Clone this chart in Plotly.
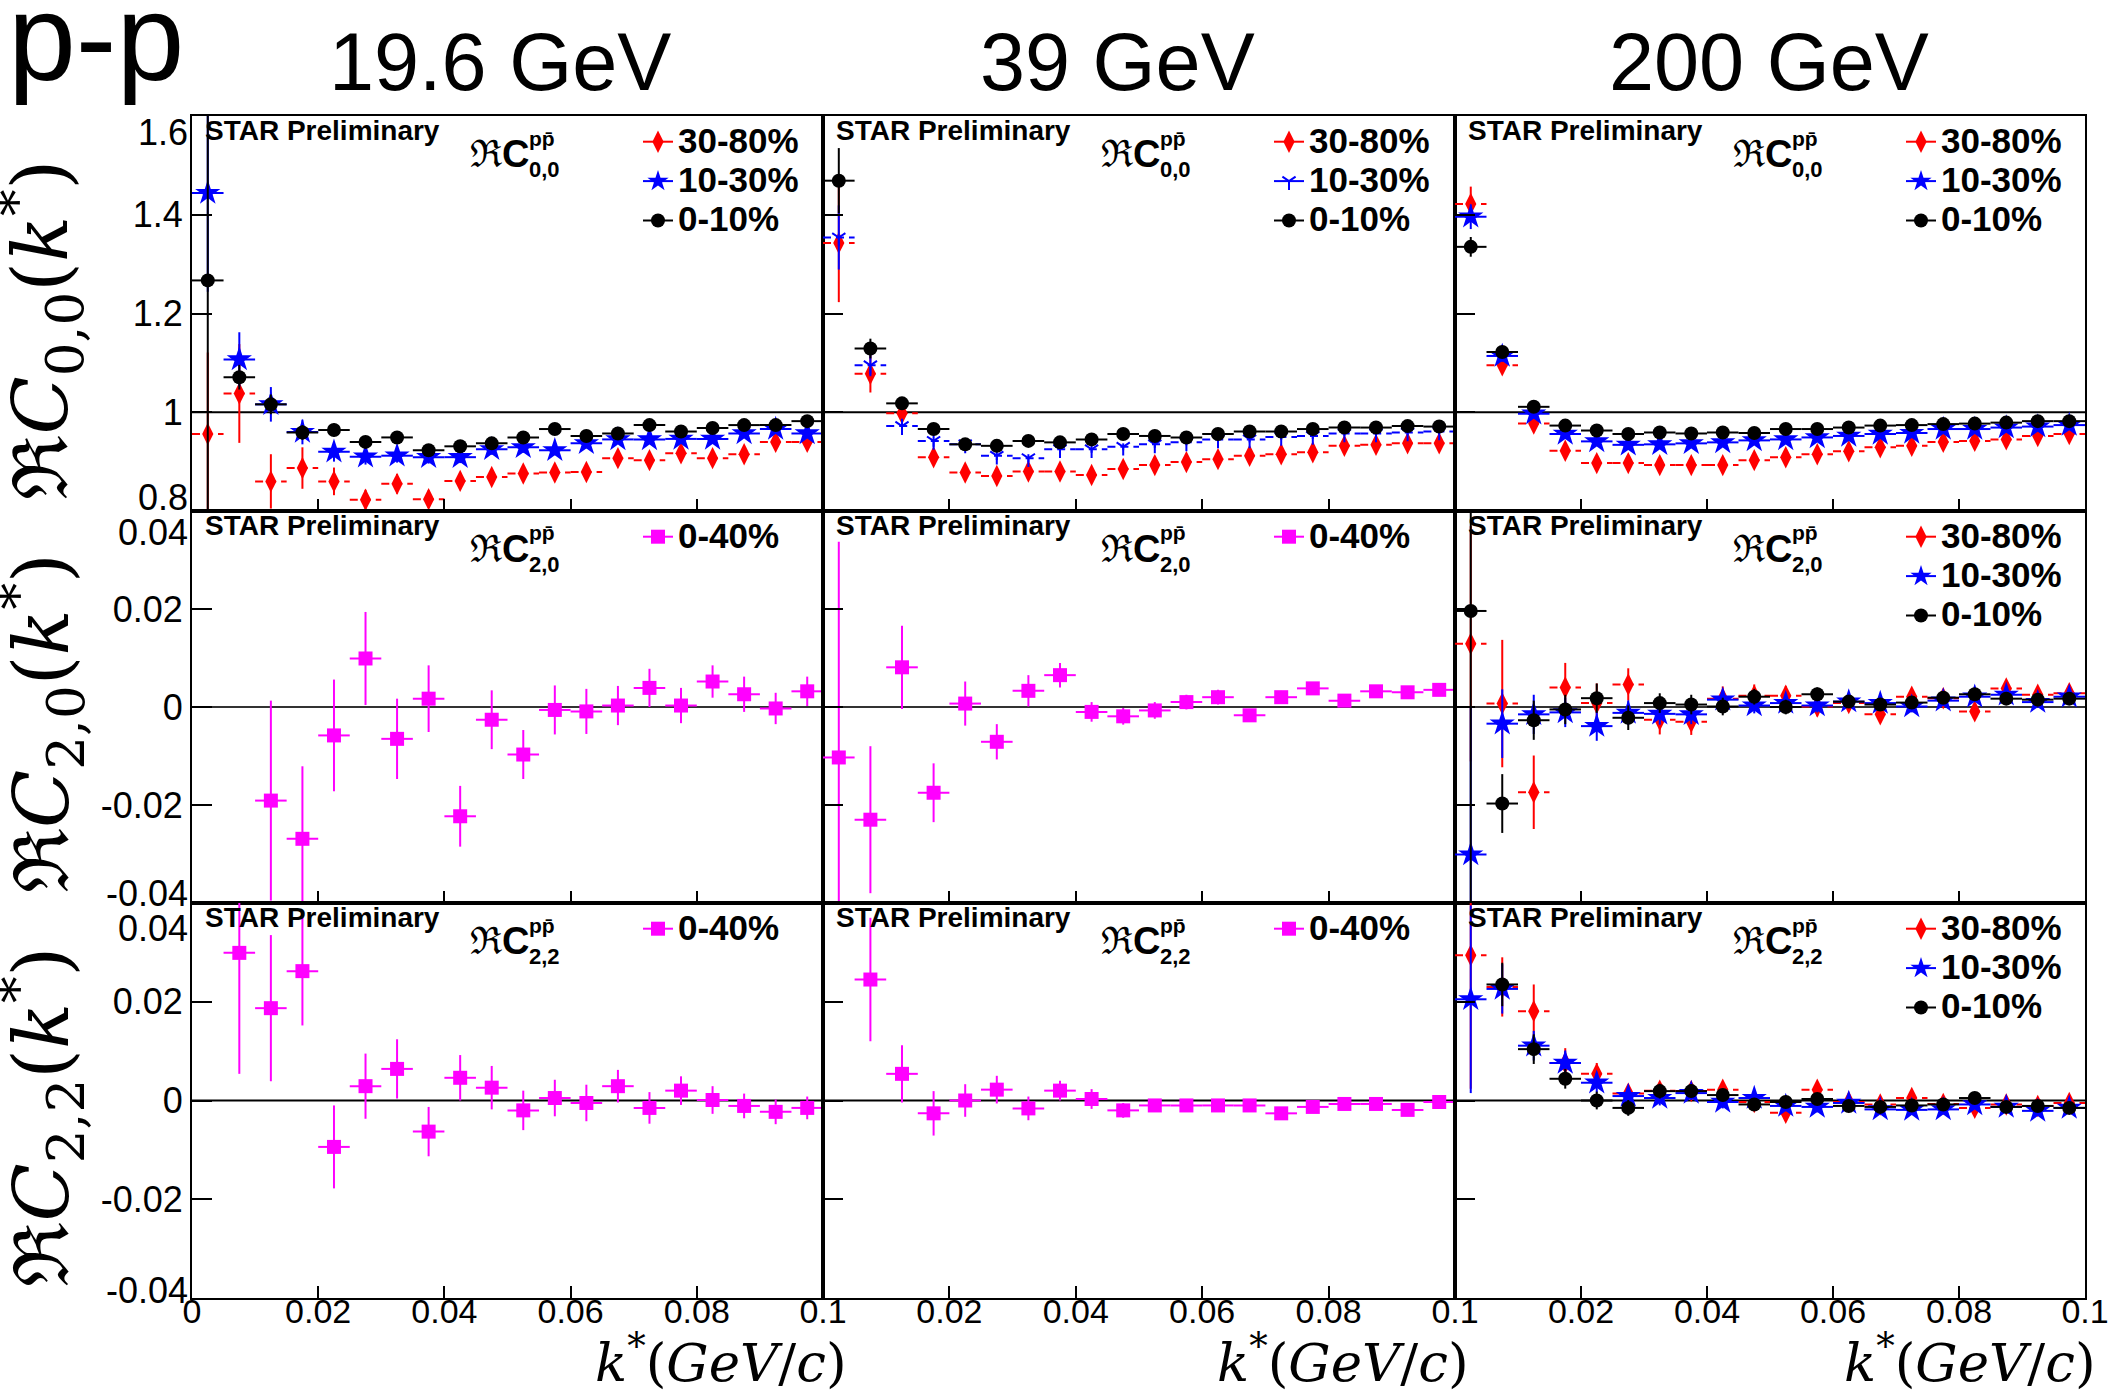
import plotly.graph_objects as go

# ---------------- data ----------------
K_STAR = [0.0025, 0.0075, 0.0125, 0.0175, 0.0225, 0.0275, 0.0325, 0.0375, 0.0425, 0.0475,
          0.0525, 0.0575, 0.0625, 0.0675, 0.0725, 0.0775, 0.0825, 0.0875, 0.0925, 0.0975]
BIN_HALF = 0.0025

ENERGIES = ["19.6 GeV", "39 GeV", "200 GeV"]
CENT = ["30-80%", "10-30%", "0-10%"]

# Re C00, 19.6 GeV
c00_19_3080 = [0.956, 1.038, 0.860, 0.887, 0.860, 0.823, 0.855, 0.824, 0.861, 0.869, 0.876, 0.878, 0.879, 0.907, 0.903, 0.917, 0.907, 0.915, 0.940, 0.940]
e00_19_3080 = [0.165, 0.10, 0.055, 0.042, 0.028, 0.020, 0.020, 0.018, 0.016, 0.015, 0.014, 0.013, 0.013, 0.012, 0.012, 0.011, 0.011, 0.011, 0.010, 0.010]
c00_19_1030 = [1.444, 1.107, 1.016, 0.960, 0.920, 0.910, 0.912, 0.909, 0.909, 0.925, 0.929, 0.923, 0.937, 0.945, 0.945, 0.946, 0.946, 0.957, 0.966, 0.957]
e00_19_1030 = [0.20, 0.055, 0.035, 0.025, 0.020, 0.016, 0.014, 0.013, 0.012, 0.011, 0.011, 0.010, 0.010, 0.009, 0.009, 0.009, 0.008, 0.008, 0.008, 0.008]
c00_19_0010 = [1.267, 1.071, 1.016, 0.959, 0.964, 0.940, 0.949, 0.923, 0.931, 0.937, 0.949, 0.966, 0.952, 0.957, 0.974, 0.961, 0.968, 0.974, 0.974, 0.982]
e00_19_0010 = [0.50, 0.025, 0.020, 0.015, 0.013, 0.012, 0.011, 0.010, 0.010, 0.009, 0.009, 0.009, 0.008, 0.008, 0.008, 0.008, 0.007, 0.007, 0.007, 0.007]

# Re C00, 39 GeV
c00_39_3080 = [1.343, 1.078, 0.998, 0.909, 0.878, 0.871, 0.880, 0.880, 0.873, 0.885, 0.893, 0.899, 0.905, 0.912, 0.915, 0.919, 0.932, 0.934, 0.937, 0.937]
e00_39_3080 = [0.12, 0.038, 0.020, 0.014, 0.011, 0.010, 0.009, 0.009, 0.008, 0.008, 0.008, 0.007, 0.007, 0.007, 0.007, 0.006, 0.006, 0.006, 0.006, 0.006]
c00_39_1030 = [1.354, 1.095, 0.972, 0.942, 0.935, 0.912, 0.907, 0.925, 0.925, 0.930, 0.935, 0.939, 0.945, 0.945, 0.950, 0.952, 0.957, 0.957, 0.959, 0.961]
e00_39_1030 = [0.065, 0.022, 0.015, 0.012, 0.010, 0.009, 0.008, 0.008, 0.007, 0.007, 0.007, 0.006, 0.006, 0.006, 0.006, 0.006, 0.005, 0.005, 0.005, 0.005]
c00_39_0010 = [1.469, 1.129, 1.018, 0.966, 0.935, 0.932, 0.942, 0.939, 0.945, 0.956, 0.952, 0.949, 0.956, 0.961, 0.961, 0.966, 0.969, 0.969, 0.972, 0.971]
e00_39_0010 = [0.066, 0.020, 0.012, 0.010, 0.008, 0.007, 0.007, 0.006, 0.006, 0.006, 0.005, 0.005, 0.005, 0.005, 0.005, 0.005, 0.005, 0.004, 0.004, 0.004]

# Re C00, 200 GeV
c00_200_3080 = [1.422, 1.095, 0.977, 0.922, 0.897, 0.897, 0.893, 0.893, 0.893, 0.903, 0.909, 0.915, 0.921, 0.929, 0.932, 0.940, 0.942, 0.945, 0.952, 0.956]
e00_200_3080 = [0.035, 0.015, 0.012, 0.010, 0.009, 0.008, 0.008, 0.007, 0.007, 0.007, 0.006, 0.006, 0.006, 0.006, 0.006, 0.005, 0.005, 0.005, 0.005, 0.005]
c00_200_1030 = [1.396, 1.114, 0.997, 0.956, 0.941, 0.934, 0.935, 0.937, 0.939, 0.943, 0.945, 0.949, 0.952, 0.956, 0.958, 0.966, 0.966, 0.969, 0.971, 0.974]
e00_200_1030 = [0.025, 0.012, 0.009, 0.008, 0.007, 0.006, 0.006, 0.006, 0.005, 0.005, 0.005, 0.005, 0.005, 0.005, 0.004, 0.004, 0.004, 0.004, 0.004, 0.004]
c00_200_0010 = [1.335, 1.122, 1.011, 0.973, 0.963, 0.956, 0.959, 0.957, 0.959, 0.958, 0.966, 0.966, 0.969, 0.973, 0.974, 0.976, 0.977, 0.979, 0.982, 0.982]
e00_200_0010 = [0.020, 0.010, 0.008, 0.007, 0.006, 0.006, 0.005, 0.005, 0.005, 0.005, 0.005, 0.005, 0.004, 0.004, 0.004, 0.004, 0.004, 0.004, 0.004, 0.004]

# Re C20
c20_19_0040 = [None, None, -0.0191, -0.0269, -0.0058, 0.0099, -0.0065, 0.0017, -0.0223, -0.0026, -0.0097, -0.0006, -0.0009, 0.0003, 0.0039, 0.0003, 0.0052, 0.0026, -0.0003, 0.0032]
e20_19_0040 = [None, None, 0.0204, 0.0148, 0.0114, 0.0095, 0.0082, 0.0068, 0.0062, 0.0060, 0.0050, 0.0050, 0.0046, 0.0040, 0.0039, 0.0036, 0.0033, 0.0036, 0.0032, 0.0030]
c20_39_0040 = [-0.0103, -0.0230, 0.0081, -0.0175, 0.0007, -0.0071, 0.0033, 0.0065, -0.0010, -0.0019, -0.0007, 0.0010, 0.0020, -0.0017, 0.0020, 0.0038, 0.0013, 0.0032, 0.0030, 0.0035]
e20_39_0040 = [0.044, 0.015, 0.0085, 0.0060, 0.0045, 0.0036, 0.0032, 0.0025, 0.0020, 0.0017, 0.0017, 0.0015, 0.0015, 0.0013, 0.0013, 0.0012, 0.0012, 0.0010, 0.0010, 0.0010]
c20_200_3080 = [0.0129, 0.0007, -0.0174, 0.0040, 0.0008, 0.0046, -0.0026, -0.0030, 0.0017, 0.0023, 0.0023, 0.0001, 0.0008, -0.0015, 0.0021, 0.0018, -0.0009, 0.0038, 0.0025, 0.0028]
e20_200_3080 = [0.024, 0.013, 0.0075, 0.0050, 0.0040, 0.0033, 0.0030, 0.0027, 0.0025, 0.0023, 0.0020, 0.0020, 0.0018, 0.0017, 0.0016, 0.0015, 0.0015, 0.0014, 0.0013, 0.0013]
c20_200_1030 = [-0.0301, -0.0034, -0.0015, -0.0011, -0.0039, -0.0012, -0.0014, -0.0015, 0.0015, 0.0003, 0.0008, 0.0003, 0.0011, 0.0008, 0.0001, 0.0013, 0.0021, 0.0025, 0.0010, 0.0021]
e20_200_1030 = [0.030, 0.007, 0.004, 0.0030, 0.0030, 0.0025, 0.0022, 0.0020, 0.0018, 0.0016, 0.0015, 0.0014, 0.0013, 0.0012, 0.0012, 0.0011, 0.0011, 0.0010, 0.0010, 0.0010]
c20_200_0010 = [0.0196, -0.0197, -0.0027, -0.0005, 0.0018, -0.0022, 0.0008, 0.0005, 0.0001, 0.0021, 0.0000, 0.0026, 0.0011, 0.0005, 0.0009, 0.0019, 0.0026, 0.0017, 0.0015, 0.0017]
e20_200_0010 = [0.060, 0.006, 0.004, 0.0030, 0.0030, 0.0025, 0.0020, 0.0020, 0.0018, 0.0016, 0.0015, 0.0014, 0.0013, 0.0012, 0.0012, 0.0011, 0.0011, 0.0010, 0.0010, 0.0010]

# Re C22
c22_19_0040 = [None, 0.0299, 0.0187, 0.0262, -0.0094, 0.0029, 0.0064, -0.0063, 0.0046, 0.0026, -0.0020, 0.0005, -0.0005, 0.0029, -0.0015, 0.0020, 0.0001, -0.0011, -0.0023, -0.0015]
e22_19_0040 = [None, 0.0245, 0.0148, 0.0110, 0.0084, 0.0066, 0.0060, 0.0050, 0.0046, 0.0044, 0.0040, 0.0037, 0.0037, 0.0033, 0.0032, 0.0029, 0.0028, 0.0025, 0.0025, 0.0023]
c22_39_0040 = [None, 0.0245, 0.0054, -0.0026, 0.0000, 0.0022, -0.0016, 0.0020, 0.0003, -0.0020, -0.0010, -0.0010, -0.0010, -0.0010, -0.0026, -0.0013, -0.0007, -0.0007, -0.0019, -0.0003]
e22_39_0040 = [None, 0.0125, 0.0058, 0.0045, 0.0033, 0.0028, 0.0024, 0.0020, 0.0020, 0.0015, 0.0013, 0.0012, 0.0012, 0.0011, 0.0011, 0.0010, 0.0010, 0.0010, 0.0010, 0.0010]
c22_200_3080 = [0.0294, 0.0230, 0.0181, 0.0076, 0.0054, 0.0014, 0.0020, 0.0019, 0.0022, -0.0003, -0.0025, 0.0022, -0.0003, -0.0008, 0.0005, -0.0007, -0.0015, -0.0008, -0.0011, -0.0005]
e22_200_3080 = [0.027, 0.006, 0.0054, 0.0030, 0.0022, 0.0018, 0.0016, 0.0015, 0.0014, 0.0013, 0.0012, 0.0011, 0.0010, 0.0010, 0.0010, 0.0010, 0.0010, 0.0010, 0.0009, 0.0009]
c22_200_1030 = [0.0205, 0.0226, 0.0111, 0.0076, 0.0036, 0.0009, 0.0005, 0.0015, -0.0003, 0.0005, -0.0011, -0.0013, -0.0005, -0.0018, -0.0019, -0.0018, -0.0008, -0.0013, -0.0021, -0.0015]
e22_200_1030 = [0.019, 0.005, 0.0030, 0.0025, 0.0020, 0.0016, 0.0015, 0.0014, 0.0013, 0.0012, 0.0011, 0.0011, 0.0010, 0.0010, 0.0010, 0.0009, 0.0009, 0.0009, 0.0009, 0.0009]
c22_200_0010 = [None, 0.0235, 0.0104, 0.0044, 0.0000, -0.0015, 0.0019, 0.0019, 0.0011, -0.0008, -0.0003, 0.0003, -0.0011, -0.0013, -0.0010, -0.0008, 0.0005, -0.0013, -0.0011, -0.0015]
e22_200_0010 = [None, 0.0044, 0.0030, 0.0020, 0.0018, 0.0016, 0.0015, 0.0014, 0.0013, 0.0012, 0.0011, 0.0011, 0.0010, 0.0010, 0.0010, 0.0009, 0.0009, 0.0009, 0.0009, 0.0009]

X_TICKS = [0, 0.02, 0.04, 0.06, 0.08, 0.1]
X_TICKTEXT_FIRST = ["0", "0.02", "0.04", "0.06", "0.08", "0.1"]
X_TICKTEXT_OTHER = ["", "0.02", "0.04", "0.06", "0.08", "0.1"]
Y_TICKS_ROW1 = [0.8, 1.0, 1.2, 1.4, 1.6]
Y_TICKTEXT_ROW1 = ["", "1", "1.2", "1.4", ""]
Y_TICKS_ROW23 = [-0.04, -0.02, 0.0, 0.02, 0.04]
Y_TICKTEXT_ROW23 = ["", "-0.02", "0", "0.02", ""]
Y_EDGE_LABELS = [("1.6", "0.8"), ("0.04", "-0.04"), ("0.04", "-0.04")]
Y_RANGES = [[0.8, 1.6], [-0.04, 0.04], [-0.04, 0.04]]
REF_LINES = [1.0, 0.0, 0.0]
SUBSCRIPTS = ["0,0", "2,0", "2,2"]
Y_TITLES = ["0,0", "2,0", "2,2"]

# ---------------- styles ----------------
RED = dict(color="#ff0000", symbol="diamond-tall", size=16, dash="8px,5px")
BLUE = dict(color="#0000ff", symbol="star", size=19, dash="solid")
BLUE_THIN = dict(color="#0000ff", symbol="y-down", size=11, dash="8px,5px")
BLACK = dict(color="#000000", symbol="circle", size=14, dash="solid")
MAGENTA = dict(color="#ff00ff", symbol="square", size=14, dash="solid")

PANELS = {
    (0, 0): [("30-80%", c00_19_3080, e00_19_3080, RED), ("10-30%", c00_19_1030, e00_19_1030, BLUE), ("0-10%", c00_19_0010, e00_19_0010, BLACK)],
    (0, 1): [("30-80%", c00_39_3080, e00_39_3080, RED), ("10-30%", c00_39_1030, e00_39_1030, BLUE_THIN), ("0-10%", c00_39_0010, e00_39_0010, BLACK)],
    (0, 2): [("30-80%", c00_200_3080, e00_200_3080, RED), ("10-30%", c00_200_1030, e00_200_1030, BLUE), ("0-10%", c00_200_0010, e00_200_0010, BLACK)],
    (1, 0): [("0-40%", c20_19_0040, e20_19_0040, MAGENTA)],
    (1, 1): [("0-40%", c20_39_0040, e20_39_0040, MAGENTA)],
    (1, 2): [("30-80%", c20_200_3080, e20_200_3080, RED), ("10-30%", c20_200_1030, e20_200_1030, BLUE), ("0-10%", c20_200_0010, e20_200_0010, BLACK)],
    (2, 0): [("0-40%", c22_19_0040, e22_19_0040, MAGENTA)],
    (2, 1): [("0-40%", c22_39_0040, e22_39_0040, MAGENTA)],
    (2, 2): [("30-80%", c22_200_3080, e22_200_3080, RED), ("10-30%", c22_200_1030, e22_200_1030, BLUE), ("0-10%", c22_200_0010, e22_200_0010, BLACK)],
}

# ---------------- geometry ----------------
W, H = 2114, 1391
COL_PX = [(192, 823), (823, 1455), (1455, 2085)]
ROW_PX = [(116, 511), (511, 903), (903, 1298)]
XTITLE_OFF = [26, 16, 13]


def px(x):
    return x / W


def py(y):
    return 1 - y / H


SANS = "Liberation Sans, Arial, sans-serif"
SERIF = "DejaVu Serif, serif"

fig = go.Figure()
layout = dict(
    width=W, height=H, autosize=False,
    margin=dict(l=0, r=0, t=0, b=0, autoexpand=False),
    paper_bgcolor="white", plot_bgcolor="white",
    font=dict(family=SANS, color="black", size=30),
    showlegend=True,
)
annotations = []
shapes = []

for r in range(3):
    for c in range(3):
        n = r * 3 + c + 1
        xa = "x" if n == 1 else f"x{n}"
        ya = "y" if n == 1 else f"y{n}"
        leg = "legend" if n == 1 else f"legend{n}"
        left, right = COL_PX[c]
        top, bottom = ROW_PX[r]

        layout["xaxis" if n == 1 else f"xaxis{n}"] = dict(
            domain=[px(left), px(right)], range=[0, 0.1], anchor=ya,
            showline=True, mirror=True, linecolor="black", linewidth=2,
            ticks="inside", ticklen=12, tickwidth=2, tickcolor="black",
            tickvals=X_TICKS, ticktext=X_TICKTEXT_FIRST if c == 0 else X_TICKTEXT_OTHER,
            showticklabels=(r == 2), tickfont=dict(family=SANS, size=34, color="black"),
            showgrid=False, zeroline=False, fixedrange=True, automargin=False,
            ticklabelstandoff=-18,
        )
        layout["yaxis" if n == 1 else f"yaxis{n}"] = dict(
            domain=[py(bottom), py(top)], range=Y_RANGES[r], anchor=xa,
            showline=True, mirror=True, linecolor="black", linewidth=2,
            ticks="inside", ticklen=20, tickwidth=2, tickcolor="black",
            tickvals=Y_TICKS_ROW1 if r == 0 else Y_TICKS_ROW23,
            ticktext=Y_TICKTEXT_ROW1 if r == 0 else Y_TICKTEXT_ROW23,
            showticklabels=(c == 0), tickfont=dict(family=SANS, size=36, color="black"),
            showgrid=False, zeroline=False, fixedrange=True, automargin=False,
        )

        shapes.append(dict(type="line", xref=f"{xa} domain", yref=ya, x0=0, x1=1,
                           y0=REF_LINES[r], y1=REF_LINES[r],
                           line=dict(color="#333333" if r == 1 else "black", width=2), layer="below"))

        series = PANELS[(r, c)]
        for name, vals, errs, st in series:
            hx, hy = [], []
            for k, v in zip(K_STAR, vals):
                if v is None:
                    continue
                hx += [k - BIN_HALF, k + BIN_HALF, None]
                hy += [v, v, None]
            fig.add_trace(go.Scatter(
                x=hx, y=hy, mode="lines", xaxis=xa, yaxis=ya, showlegend=False,
                line=dict(color=st["color"], width=2, dash=st["dash"]), hoverinfo="skip"))
            is_line_sym = st["symbol"] == "y-down"
            marker = dict(color=st["color"], symbol=st["symbol"], size=st["size"],
                          line=dict(color=st["color"], width=2 if is_line_sym else 0))
            fig.add_trace(go.Scatter(
                x=K_STAR, y=vals, mode="markers", xaxis=xa, yaxis=ya, showlegend=False,
                marker=marker,
                error_y=dict(type="data", array=[e if e is not None else 0 for e in errs],
                             color=st["color"], thickness=2, width=0)))
        for name, vals, errs, st in series:
            is_line_sym = st["symbol"] == "y-down"
            fig.add_trace(go.Scatter(
                x=[None], y=[None], mode="lines+markers", xaxis=xa, yaxis=ya,
                name=f"<span style='font-size:35px'>{name}</span>", legend=leg,
                line=dict(color=st["color"], width=2),
                marker=dict(color=st["color"], symbol=st["symbol"], size=min(st["size"], 16),
                            line=dict(color=st["color"], width=2 if is_line_sym else 0))))
        layout[leg] = dict(
            x=px(left + 446), y=py(top + 1), xanchor="left", yanchor="top",
            bgcolor="rgba(0,0,0,0)", borderwidth=0, itemwidth=30, tracegroupgap=0,
            font=dict(family=SANS, size=28, color="black", weight="bold"),
        )

        annotations.append(dict(text="<b>STAR Preliminary</b>", xref="paper", yref="paper",
                                x=px(left + 11), y=py(top + 14), xanchor="left", yanchor="middle",
                                showarrow=False, font=dict(family=SANS, size=28, color="black")))
        annotations.append(dict(text="ℜ<b>C</b>", xref="paper", yref="paper",
                                x=px(left + 276), y=py(top + 38), xanchor="left", yanchor="middle",
                                showarrow=False, font=dict(family=SANS, size=38, color="black")))
        annotations.append(dict(text="<b>pp̄</b>", xref="paper", yref="paper",
                                x=px(left + 335), y=py(top + 22), xanchor="left", yanchor="middle",
                                showarrow=False, font=dict(family=SANS, size=21, color="black")))
        annotations.append(dict(text=f"<b>{SUBSCRIPTS[r]}</b>", xref="paper", yref="paper",
                                x=px(left + 335), y=py(top + 53), xanchor="left", yanchor="middle",
                                showarrow=False, font=dict(family=SANS, size=22, color="black")))

EDGE_POS = [(133, 497), (533, 893), (929, 1290)]
for r in range(3):
    for lab, ypos in zip(Y_EDGE_LABELS[r], EDGE_POS[r]):
        annotations.append(dict(text=lab, xref="paper", yref="paper", x=px(190), y=py(ypos),
                                xanchor="right", yanchor="middle", showarrow=False,
                                font=dict(family=SANS, size=36, color="black")))

for r in range(3):
    top, bottom = ROW_PX[r]
    annotations.append(dict(
        text=f"ℜ<i>C</i><sub>{Y_TITLES[r]}</sub>(<i>k</i><sup>*</sup>)",
        xref="paper", yref="paper", x=px(42), y=py((top + bottom) / 2 + 16),
        xanchor="center", yanchor="middle", textangle=-90, showarrow=False,
        font=dict(family=SERIF, size=76, color="black")))

for c in range(3):
    left, right = COL_PX[c]
    annotations.append(dict(
        text="<i>k</i><sup>*</sup>(<i>GeV</i>/<i>c</i>)",
        xref="paper", yref="paper", x=px(right + XTITLE_OFF[c]), y=py(1359),
        xanchor="right", yanchor="middle", showarrow=False,
        font=dict(family=SERIF, size=53, color="black")))

annotations.append(dict(text="p-p", xref="paper", yref="paper", x=px(6), y=py(108),
                        xanchor="left", yanchor="bottom", showarrow=False,
                        font=dict(family=SANS, size=122, color="black")))
TITLE_X = [500, 1117, 1769]
for c in range(3):
    annotations.append(dict(text=ENERGIES[c], xref="paper", yref="paper", x=px(TITLE_X[c]), y=py(109),
                            xanchor="center", yanchor="bottom", showarrow=False,
                            font=dict(family=SANS, size=81, color="black")))

layout["annotations"] = annotations
layout["shapes"] = shapes
fig.update_layout(**layout)
fig.write_html("out.html", config={"displayModeBar": False},
               post_script="document.body.style.margin='0';document.body.style.overflow='hidden';")
